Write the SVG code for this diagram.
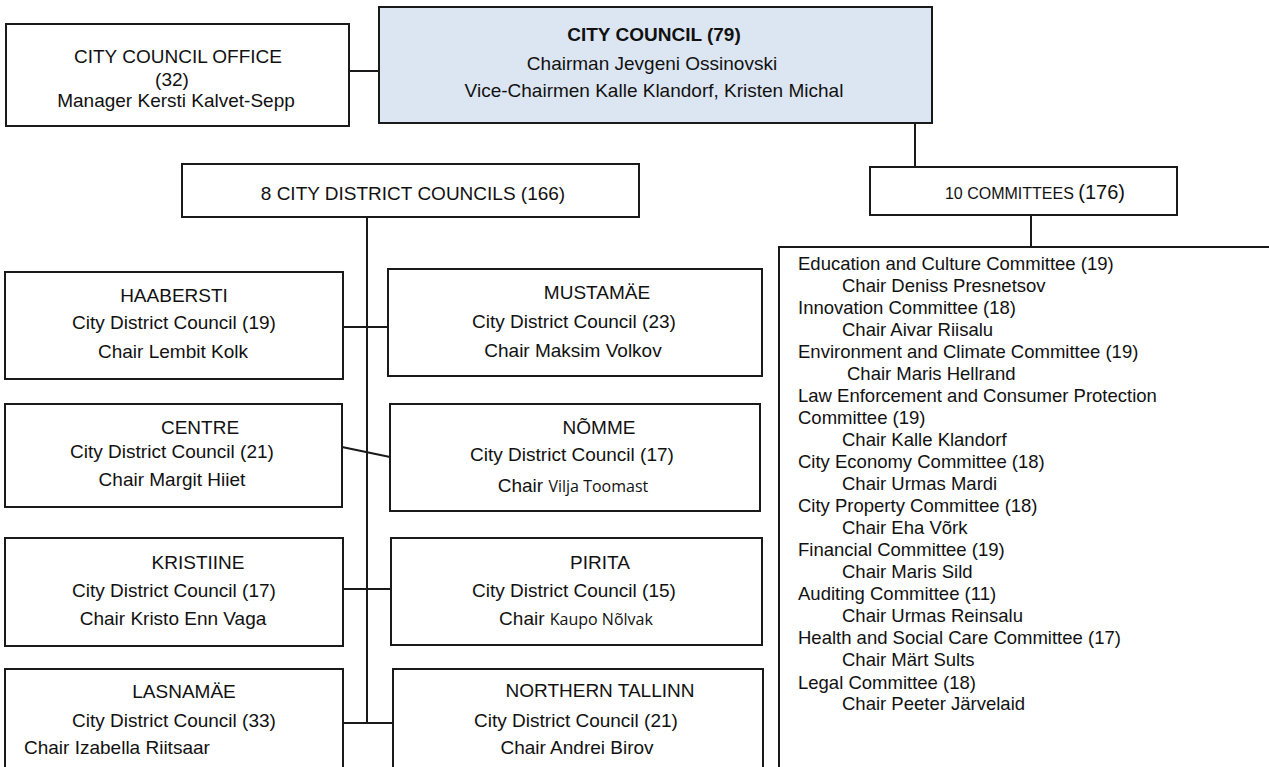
<svg xmlns="http://www.w3.org/2000/svg" width="1269" height="767" viewBox="0 0 1269 767">
<style>
.box{fill:#ffffff;stroke:#1a1a1a;stroke-width:2}
.main{fill:#dce6f2;stroke:#1a1a1a;stroke-width:2}
.con{fill:none;stroke:#1a1a1a;stroke-width:2}
text{font-family:"Liberation Sans",Arial,sans-serif;font-size:19px;fill:#111}
.c{text-anchor:middle}
.b{font-weight:bold}
.l{font-size:18.5px}
.alt{font-family:"Open Sans","Noto Sans",sans-serif;font-size:16px}
</style>
<rect width="1269" height="767" fill="#ffffff"/>
<g id="connectors">
<path class="con" d="M349 71H379"/>
<path class="con" d="M915 123V167"/>
<path class="con" d="M1031 215V247"/>
<path class="con" d="M367 217V723"/>
<path class="con" d="M343 327H388"/>
<path class="con" d="M342 447L390 457"/>
<path class="con" d="M343 589H391"/>
<path class="con" d="M343 723H393"/>
</g>
<g id="office">
<rect class="box" x="6" y="24" width="343" height="102"/>
<text class="c" x="178" y="63">CITY COUNCIL OFFICE</text>
<text class="c" x="172" y="86">(32)</text>
<text class="c" x="176" y="107">Manager Kersti Kalvet-Sepp</text>
</g>
<g id="council">
<rect class="main" x="379" y="7" width="553" height="116"/>
<text class="c b" x="654" y="41">CITY COUNCIL (79)</text>
<text class="c" x="652" y="70">Chairman Jevgeni Ossinovski</text>
<text class="c" x="654" y="97">Vice-Chairmen Kalle Klandorf, Kristen Michal</text>
</g>
<g id="district-councils">
<rect class="box" x="182" y="164" width="457" height="53"/>
<text class="c" x="413" y="200">8 CITY DISTRICT COUNCILS (166)</text>
</g>
<g id="committees">
<rect class="box" x="870" y="167" width="307" height="48"/>
<text class="c" x="1035" y="199"><tspan font-size="16">10 COMMITTEES </tspan><tspan font-size="20">(176)</tspan></text>
</g>
<g id="committee-list">
<rect class="box" x="779" y="247" width="600" height="600"/>
<text class="l" x="798" y="269.5">Education and Culture Committee (19)</text>
<text class="l" x="842" y="291.5">Chair Deniss Presnetsov</text>
<text class="l" x="798" y="313.5">Innovation Committee (18)</text>
<text class="l" x="842" y="335.5">Chair Aivar Riisalu</text>
<text class="l" x="798" y="357.5">Environment and Climate Committee (19)</text>
<text class="l" x="847" y="379.5">Chair Maris Hellrand</text>
<text class="l" x="798" y="401.5">Law Enforcement and Consumer Protection</text>
<text class="l" x="798" y="423.5">Committee (19)</text>
<text class="l" x="842" y="445.5">Chair Kalle Klandorf</text>
<text class="l" x="798" y="467.5">City Economy Committee (18)</text>
<text class="l" x="842" y="489.5">Chair Urmas Mardi</text>
<text class="l" x="798" y="511.5">City Property Committee (18)</text>
<text class="l" x="842" y="533.5">Chair Eha Võrk</text>
<text class="l" x="798" y="555.5">Financial Committee (19)</text>
<text class="l" x="842" y="577.5">Chair Maris Sild</text>
<text class="l" x="798" y="599.5">Auditing Committee (11)</text>
<text class="l" x="842" y="621.5">Chair Urmas Reinsalu</text>
<text class="l" x="798" y="643.5">Health and Social Care Committee (17)</text>
<text class="l" x="842" y="665.5">Chair Märt Sults</text>
<text class="l" x="798" y="689">Legal Committee (18)</text>
<text class="l" x="842" y="710">Chair Peeter Järvelaid</text>
</g>
<g id="haabersti">
<rect class="box" x="5" y="272" width="338" height="107"/>
<text class="c" x="174" y="302">HAABERSTI</text>
<text class="c" x="174" y="329">City District Council (19)</text>
<text class="c" x="173" y="358">Chair Lembit Kolk</text>
</g>
<g id="mustamae">
<rect class="box" x="388" y="269" width="374" height="107"/>
<text class="c" x="597" y="299">MUSTAMÄE</text>
<text class="c" x="574" y="328">City District Council (23)</text>
<text class="c" x="573" y="357">Chair Maksim Volkov</text>
</g>
<g id="centre">
<rect class="box" x="5" y="404" width="337" height="103"/>
<text class="c" x="200" y="434">CENTRE</text>
<text class="c" x="172" y="458">City District Council (21)</text>
<text class="c" x="172" y="486">Chair Margit Hiiet</text>
</g>
<g id="nomme">
<rect class="box" x="390" y="404" width="370" height="107"/>
<text class="c" x="599" y="434">NÕMME</text>
<text class="c" x="572" y="461">City District Council (17)</text>
<text class="c" x="573" y="492">Chair <tspan class="alt">Vilja Toomast</tspan></text>
</g>
<g id="kristiine">
<rect class="box" x="5" y="538" width="338" height="108"/>
<text class="c" x="198" y="569">KRISTIINE</text>
<text class="c" x="174" y="597">City District Council (17)</text>
<text class="c" x="173" y="625">Chair Kristo Enn Vaga</text>
</g>
<g id="pirita">
<rect class="box" x="391" y="538" width="371" height="107"/>
<text class="c" x="600" y="569">PIRITA</text>
<text class="c" x="574" y="597">City District Council (15)</text>
<text class="c" x="576" y="625">Chair <tspan class="alt">Kaupo Nõlvak</tspan></text>
</g>
<g id="lasnamae">
<rect class="box" x="5" y="669" width="338" height="120"/>
<text class="c" x="184" y="698">LASNAMÄE</text>
<text class="c" x="174" y="727">City District Council (33)</text>
<text x="24" y="754">Chair Izabella Riitsaar</text>
</g>
<g id="northern-tallinn">
<rect class="box" x="393" y="669" width="370" height="120"/>
<text class="c" x="600" y="697">NORTHERN TALLINN</text>
<text class="c" x="576" y="727">City District Council (21)</text>
<text class="c" x="577" y="754">Chair Andrei Birov</text>
</g>
</svg>
